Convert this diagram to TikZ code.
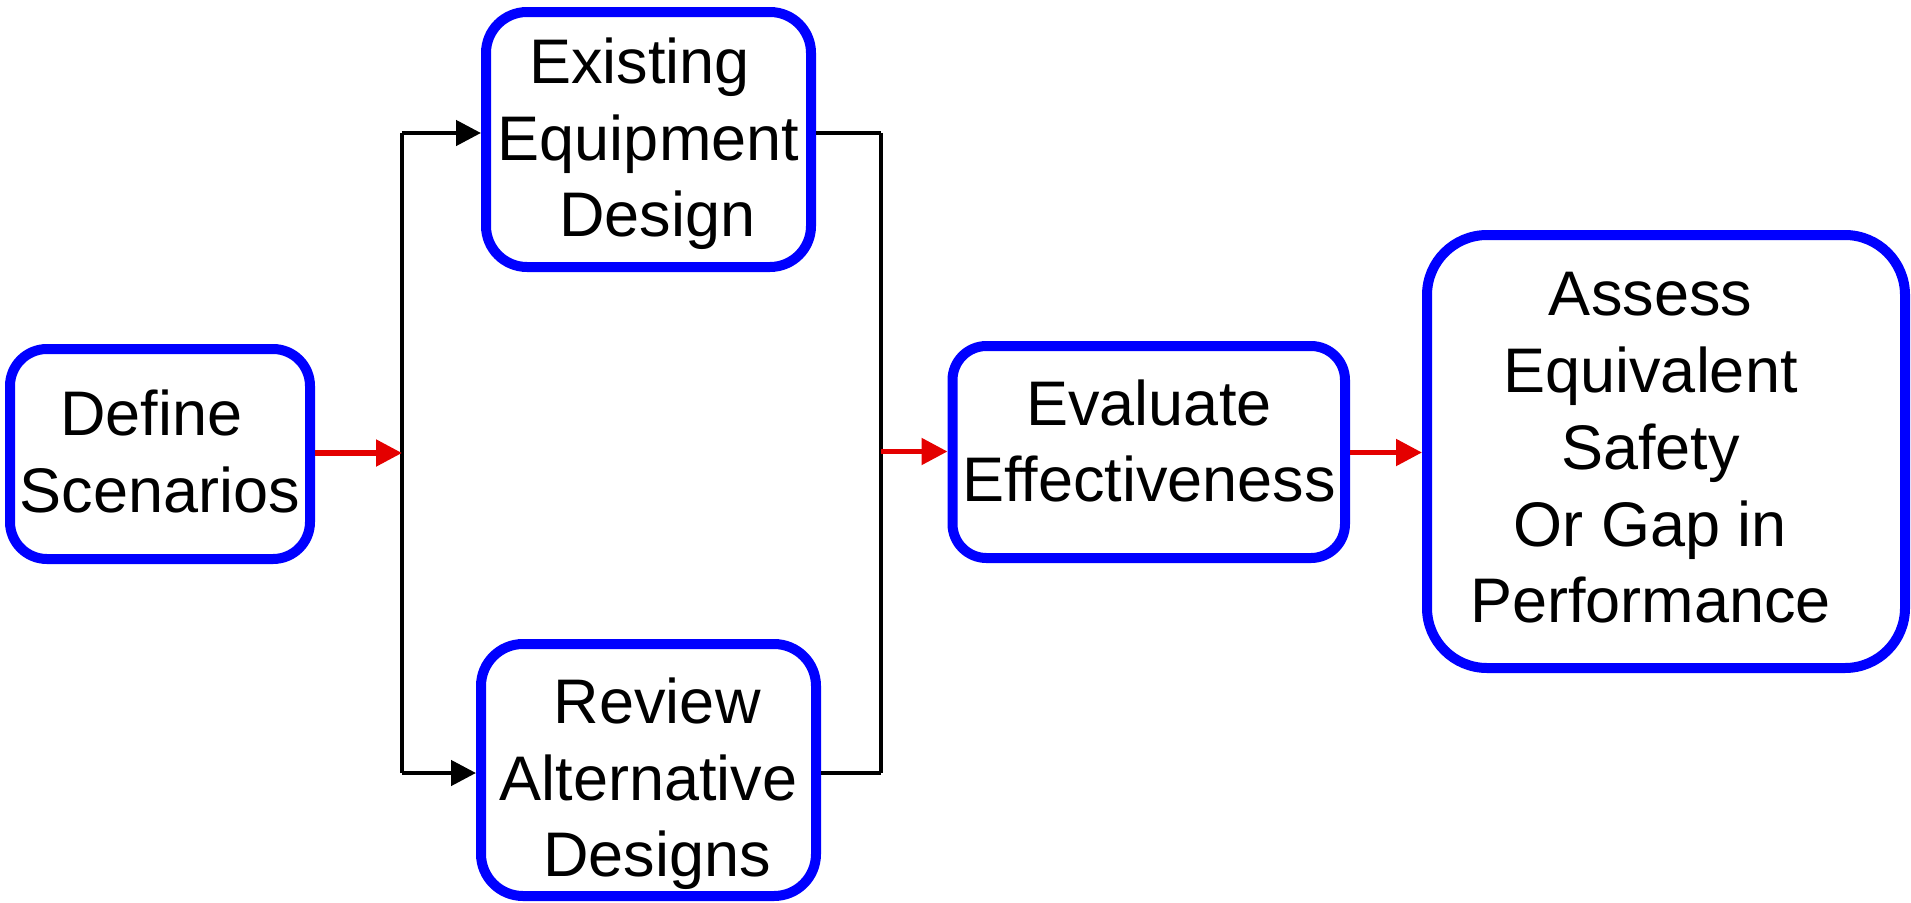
\documentclass[tikz,border=0pt]{standalone}
\usepackage{fontspec}
\setmainfont{Liberation Sans}
\usetikzlibrary{arrows.meta}
\definecolor{boxblue}{RGB}{0,0,255}
\definecolor{arrred}{RGB}{228,0,0}
\newcommand\trsp{\hspace*{0.278em}}
\begin{document}
\begin{tikzpicture}[x=1pt,y=-1pt,
  box/.style={draw=boxblue, line width=10pt, rounded corners=#1, fill=white, inner sep=0pt},
  box/.default=35pt,
  txt/.style={align=center, font=\fontsize{63}{76.7}\selectfont, inner sep=0pt},
  conn/.style={line width=4.6pt},
  blk/.style={conn, -{Triangle[length=25pt,width=25pt]}},
  redarr/.style={line width=5.2pt, draw=arrred, fill=arrred, -{Triangle[length=26pt,width=26pt]}}
]
\useasboundingbox (0,0) rectangle (1911,902);

% boxes
\node[box=37pt, minimum width=300pt, minimum height=210pt] (b1) at (160,454) {};
\node[box=41pt, minimum width=325pt, minimum height=255pt] (b2) at (648.5,139.5) {};
\node[box=42pt, minimum width=335pt, minimum height=252pt] (b3) at (648.5,770) {};
\node[box=34pt, minimum width=392.5pt, minimum height=212pt] (b4) at (1148.75,452) {};
\node[box=60pt, minimum width=478pt, minimum height=433pt] (b5) at (1666,451.5) {};

% texts
\node[txt] (t1) at (160,451.5) {Define\trsp\\Scenarios};
\node[txt] (t2) at (648.5,144) {Existing\trsp\\Equipment\\\trsp Design};
\node[txt] (t3) at (648.5,784) {\trsp Review\\Alternative\trsp\\\trsp Designs};
\node[txt] (t4) at (1149,441) {Evaluate\\Effectiveness};
\node[txt] (t5) at (1650.5,448) {Assess\\Equivalent\trsp\\Safety\trsp\\Or Gap in\trsp\\Performance};

% junction coordinates
\coordinate (lt) at (402,133);
\coordinate (lb) at (402,773);
\coordinate (lm) at (402,453);
\coordinate (rt) at (881,133);
\coordinate (rb) at (881,773);
\coordinate (rm) at (881,451.5);
\coordinate (m5) at (1380,452.5);

% connectors
\draw[conn] (lt) -- (lb);
\draw[conn] (rt) -- (rb);
\draw[blk] (lt) -- (b2.west |- lt);
\draw[blk] (lb) -- (b3.west |- lb);
\draw[conn] (b2.east |- rt) -- (rt);
\draw[conn] (b3.east |- rb) -- (rb);
\draw[redarr] (b1.east |- lm) -- (lm);
\draw[redarr] (rm) -- (b4.west |- rm);
\draw[redarr] (b4.east |- m5) -- (b5.west |- m5);
\end{tikzpicture}
\end{document}
